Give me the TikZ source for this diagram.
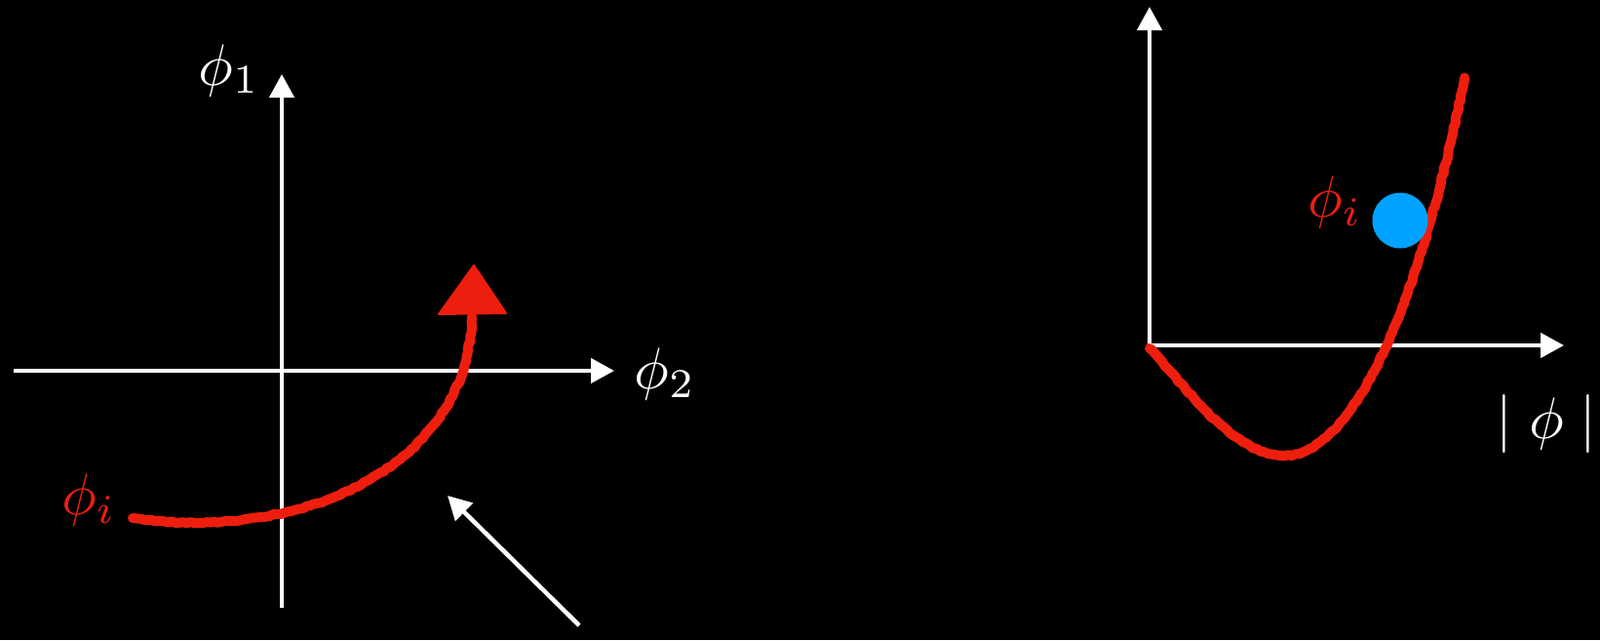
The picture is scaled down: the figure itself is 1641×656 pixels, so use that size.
\documentclass[tikz,border=0pt]{standalone}
\usetikzlibrary{arrows.meta,decorations.pathmorphing}
\definecolor{chalkred}{RGB}{238,30,14}
\definecolor{dotblue}{RGB}{0,163,255}
\begin{document}
\begin{tikzpicture}[x=1pt,y=-1pt,
  axis/.style={draw=white,line width=4.5pt,-{Triangle[length=24pt,width=25pt]}},
  chalk/.style={draw=chalkred,line width=10pt,line cap=round,line join=round,
    decorate,decoration={random steps,segment length=4pt,amplitude=0.8pt}},
  lbl/.style={text=white,inner sep=0pt,scale=6},
  redlbl/.style={lbl,text=chalkred},
  ]
\fill[black] (0,0) rectangle (1641,656);
\useasboundingbox (0,0) rectangle (1641,656);

% left plot axes
\coordinate (Lw) at (14,380);
\coordinate (Le) at (630,380);
\coordinate (Ls) at (289,623);
\coordinate (Ln) at (289,76);
\draw[axis] (Lw) -- (Le);
\draw[axis] (Ls) -- (Ln);
\node[lbl] (p1) at (235,72) {$\phi_1$};
\node[lbl] (p2) at (682,383) {$\phi_2$};
\node[redlbl] (pil) at (91,512) {$\phi_i$};

% red path with arrowhead
\coordinate (cs) at (136,531);
\coordinate (ce) at (484,325);
\draw[chalk] (cs) .. controls (310,556) and (480,478) .. (ce);
\coordinate (tipA) at (486,272);
\coordinate (tipB) at (519,321);
\coordinate (tipC) at (450,322);
\fill[chalkred, draw=chalkred, line width=2pt, line join=round] (tipA) -- (tipB) -- (tipC) -- cycle;

% white pointer arrow
\coordinate (wt) at (594,641);
\coordinate (wh) at (459,508);
\draw[axis] (wt) -- (wh);

% right plot axes
\coordinate (O) at (1179,354);
\coordinate (Rn) at (1179,7);
\coordinate (Re) at (1604,354);
\draw[axis] (O) -- (Rn);
\draw[axis] (O) -- (Re);

% potential curve
\coordinate (ps) at (1179,357);
\coordinate (pm) at (1317,467);
\coordinate (pe) at (1502,80);
\draw[chalk] (ps) .. controls (1215,395) and (1265,467) .. (pm)
  .. controls (1378,467) and (1448,350) .. (pe);

\node[circle, fill=dotblue, minimum size=57pt, inner sep=0pt] (ball) at (1436,226) {};
\node[redlbl] (pir) at (1369,207) {$\phi_i$};
\node[lbl] (absphi) at (1586,434) {$|\;\phi\;|$};
\end{tikzpicture}
\end{document}
